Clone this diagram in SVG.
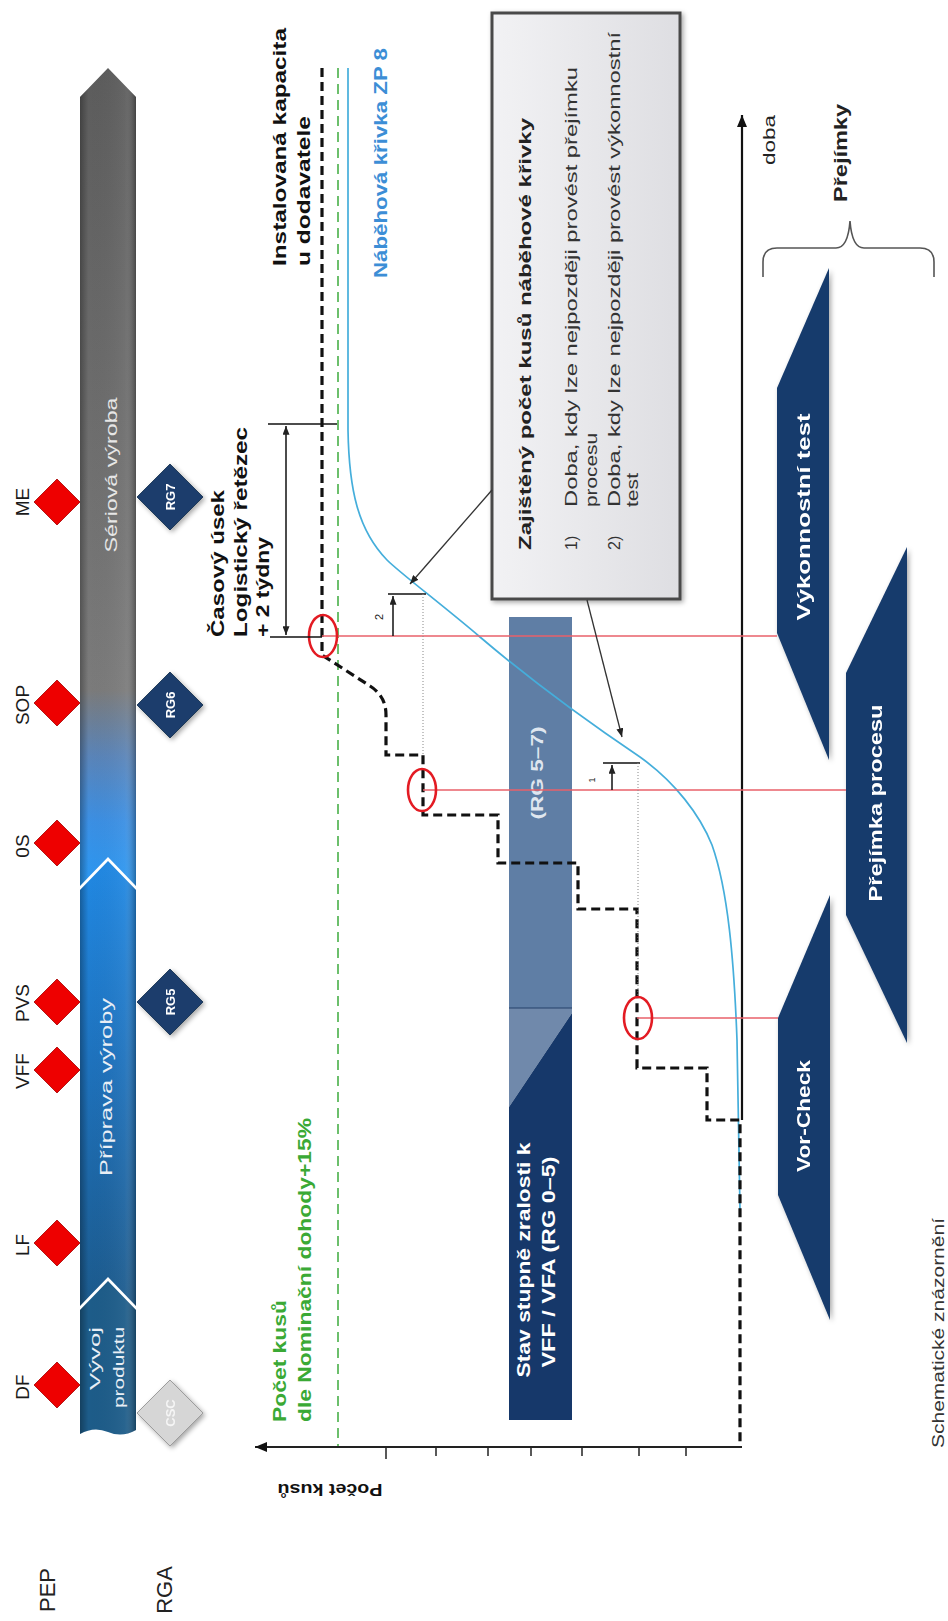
<svg xmlns="http://www.w3.org/2000/svg" width="948" height="1621" viewBox="0 0 948 1621">
<defs>
<style>
text{font-family:"Liberation Sans",Arial,Helvetica,sans-serif}
.lbl{font-size:19px;fill:#1a1a1a;text-anchor:middle}
.b{font-weight:bold}
.wt{fill:#ffffff}
.mid{text-anchor:middle}
.end{text-anchor:end}
.red{fill:#ee0000;stroke:#a30000;stroke-width:0.8}
.rg{fill:#1b3c6c;stroke:#12294a;stroke-width:0.8}
.rgt{font-size:13px;font-weight:bold;fill:#ffffff;text-anchor:middle}
.navy{fill:#153a6c}
.cb{font-size:16px;fill:#333}
.redl{stroke:#e8606a;stroke-width:1.6;fill:none}
.ell{stroke:#e31b23;stroke-width:2.6;fill:none}
.thin{stroke:#111;stroke-width:1.5;fill:none}
</style>
<linearGradient id="gSer" gradientUnits="userSpaceOnUse" x1="0" y1="68" x2="0" y2="887">
<stop offset="0" stop-color="#5c5c5c"/>
<stop offset="0.4" stop-color="#6c6c6c"/>
<stop offset="0.76" stop-color="#7b7b7b"/>
<stop offset="0.84" stop-color="#5a84b8"/>
<stop offset="0.92" stop-color="#3b8fe3"/>
<stop offset="1" stop-color="#2a98f2"/>
</linearGradient>
<linearGradient id="gPri" gradientUnits="userSpaceOnUse" x1="0" y1="860" x2="0" y2="1306">
<stop offset="0" stop-color="#2189e4"/>
<stop offset="0.45" stop-color="#1e72bd"/>
<stop offset="1" stop-color="#1c5a8c"/>
</linearGradient>
<linearGradient id="gEdge" x1="0" y1="0" x2="1" y2="0">
<stop offset="0" stop-color="#000" stop-opacity="0.3"/>
<stop offset="0.15" stop-color="#000" stop-opacity="0"/>
<stop offset="0.8" stop-color="#fff" stop-opacity="0.05"/>
<stop offset="1" stop-color="#000" stop-opacity="0.3"/>
</linearGradient>
<linearGradient id="gBox" x1="0" y1="0" x2="1" y2="0">
<stop offset="0" stop-color="#f2f2f4"/>
<stop offset="1" stop-color="#dedee2"/>
</linearGradient>
<filter id="sh" x="-30%" y="-30%" width="160%" height="160%">
<feDropShadow dx="2" dy="2" stdDeviation="2.5" flood-color="#000" flood-opacity="0.35"/>
</filter>
<marker id="ahB" markerUnits="userSpaceOnUse" viewBox="0 0 12 10" refX="12" refY="5" markerWidth="12" markerHeight="10" orient="auto-start-reverse">
<path d="M0,0 L12,5 L0,10 z" fill="#111"/>
</marker>
<marker id="ahS" markerUnits="userSpaceOnUse" viewBox="0 0 10 8" refX="10" refY="4" markerWidth="9" markerHeight="7" orient="auto-start-reverse">
<path d="M0,0 L10,4 L0,8 z" fill="#222"/>
</marker>
</defs>
<rect x="0" y="0" width="948" height="1621" fill="#ffffff"/>

<!-- timeline bar -->
<g id="serie">
<path d="M80,97 L108,68 L136,97 L136,886 L108,857 L80,886 Z" fill="url(#gSer)"/>
<path d="M80,97 L108,68 L136,97 L136,886 L108,857 L80,886 Z" fill="url(#gEdge)"/>
<text transform="translate(117,475) rotate(-90)" class="mid" font-size="16" fill="#e6e6e6" textLength="155" lengthAdjust="spacingAndGlyphs">Sériová výroba</text>
</g>
<g id="priprava">
<path d="M80,890 L108,861 L136,890 L136,1306 L108,1277 L80,1306 Z" fill="url(#gPri)"/>
<path d="M80,890 L108,861 L136,890 L136,1306 L108,1277 L80,1306 Z" fill="url(#gEdge)"/>
<text transform="translate(112,1087) rotate(-90)" class="mid" font-size="16" fill="#e8eef5" textLength="178" lengthAdjust="spacingAndGlyphs">Příprava výroby</text>
</g>
<g id="vyvoj">
<path d="M80,1310 L108,1281 L136,1310 L136,1430 Q122,1438 108,1432 Q94,1426 80,1434 Z" fill="#1d5c89"/>
<path d="M80,1310 L108,1281 L136,1310 L136,1430 Q122,1438 108,1432 Q94,1426 80,1434 Z" fill="url(#gEdge)"/>
<text transform="translate(100,1327) rotate(-90)" class="end" font-size="14" fill="#e8eef5" textLength="63" lengthAdjust="spacingAndGlyphs">Vývoj</text>
<text transform="translate(124,1327) rotate(-90)" class="end" font-size="14" fill="#e8eef5" textLength="81" lengthAdjust="spacingAndGlyphs">produktu</text>
</g>

<!-- PEP milestones -->
<g id="ms-me"><polygon class="red" points="57,479 80,502 57,525 34,502"/><text class="lbl" transform="translate(29,502) rotate(-90)">ME</text></g>
<g id="ms-sop"><polygon class="red" points="57,680 80,703 57,726 34,703"/><text class="lbl" transform="translate(29,705) rotate(-90)">SOP</text></g>
<g id="ms-0s"><polygon class="red" points="57,820 80,843 57,866 34,843"/><text class="lbl" transform="translate(29,846) rotate(-90)">0S</text></g>
<g id="ms-pvs"><polygon class="red" points="57,979 80,1002 57,1025 34,1002"/><text class="lbl" transform="translate(29,1003) rotate(-90)">PVS</text></g>
<g id="ms-vff"><polygon class="red" points="57,1047 80,1070 57,1093 34,1070"/><text class="lbl" transform="translate(29,1071) rotate(-90)">VFF</text></g>
<g id="ms-lf"><polygon class="red" points="57,1220 80,1243 57,1266 34,1243"/><text class="lbl" transform="translate(29,1245) rotate(-90)">LF</text></g>
<g id="ms-df"><polygon class="red" points="57,1362 80,1385 57,1408 34,1385"/><text class="lbl" transform="translate(29,1387) rotate(-90)">DF</text></g>

<!-- RGA gates -->
<g id="rg7" filter="url(#sh)"><polygon class="rg" points="170,464 203,497 170,530 137,497"/><text class="rgt" transform="translate(175,497) rotate(-90)">RG7</text></g>
<g id="rg6" filter="url(#sh)"><polygon class="rg" points="170,672 203,705 170,738 137,705"/><text class="rgt" transform="translate(175,705) rotate(-90)">RG6</text></g>
<g id="rg5" filter="url(#sh)"><polygon class="rg" points="170,969 203,1002 170,1035 137,1002"/><text class="rgt" transform="translate(175,1002) rotate(-90)">RG5</text></g>
<g id="csc" filter="url(#sh)"><polygon points="170,1380 203,1413 170,1446 137,1413" fill="#d6d6d6" stroke="#9c9c9c" stroke-width="1"/><text transform="translate(175,1413) rotate(-90)" class="mid" font-size="13" font-weight="bold" fill="#f5f5f5">CSC</text></g>

<g id="row-labels">
<text transform="translate(55,1590) rotate(-90)" class="mid" font-size="22" fill="#222">PEP</text>
<text transform="translate(172,1590) rotate(-90)" class="mid" font-size="22" fill="#222">RGA</text>
</g>

<!-- Stav bar -->
<g id="stav">
<rect x="509" y="617" width="63" height="391" fill="#5f7ea5"/>
<polygon points="509,1008 572,1008 572,1013 509,1107" fill="#7089ab"/>
<polygon points="572,1013 572,1420 509,1420 509,1107" fill="#16386a"/>
<line x1="509" y1="1008" x2="572" y2="1008" stroke="#24406a" stroke-width="1.2"/>
<text transform="translate(543,773) rotate(-90)" class="mid b" font-size="17" fill="#dfe6ef" textLength="93" lengthAdjust="spacingAndGlyphs">(RG 5–7)</text>
<text transform="translate(530,1260) rotate(-90)" class="mid b wt" font-size="18" textLength="235" lengthAdjust="spacingAndGlyphs">Stav stupně zralosti k</text>
<text transform="translate(555,1262) rotate(-90)" class="mid b wt" font-size="18" textLength="211" lengthAdjust="spacingAndGlyphs">VFF / VFA (RG 0–5)</text>
</g>

<!-- Callout box -->
<g id="callout">
<rect x="492" y="13" width="188" height="586" fill="url(#gBox)" stroke="#4a4a4a" stroke-width="3" filter="url(#sh)"/>
<text transform="translate(531,550) rotate(-90)" class="b" font-size="17" fill="#222" textLength="432" lengthAdjust="spacingAndGlyphs">Zajištěný počet kusů náběhové křivky</text>
<text transform="translate(577,550) rotate(-90)" class="cb">1)</text>
<text transform="translate(577,507) rotate(-90)" class="cb" textLength="440" lengthAdjust="spacingAndGlyphs">Doba, kdy lze nejpozději provést přejímku</text>
<text transform="translate(597,507) rotate(-90)" class="cb" textLength="74" lengthAdjust="spacingAndGlyphs">procesu</text>
<text transform="translate(620,550) rotate(-90)" class="cb">2)</text>
<text transform="translate(620,507) rotate(-90)" class="cb" textLength="475" lengthAdjust="spacingAndGlyphs">Doba, kdy lze nejpozději provést výkonnostní</text>
<text transform="translate(638,507) rotate(-90)" class="cb" textLength="34" lengthAdjust="spacingAndGlyphs">test</text>
</g>

<!-- acceptance shapes -->
<g id="vykonnostni" filter="url(#sh)"><polygon class="navy" points="777,388 829,268 829,760 777,633"/><text transform="translate(810,517) rotate(-90)" class="mid b wt" font-size="18" textLength="207" lengthAdjust="spacingAndGlyphs">Výkonnostní test</text></g>
<g id="prejimka" filter="url(#sh)"><polygon class="navy" points="846,673 907,547 907,1043 846,915"/><text transform="translate(882,803) rotate(-90)" class="mid b wt" font-size="18" textLength="197" lengthAdjust="spacingAndGlyphs">Přejímka procesu</text></g>
<g id="vorcheck" filter="url(#sh)"><polygon class="navy" points="778,1018 830,895 830,1320 778,1195"/><text transform="translate(810,1116) rotate(-90)" class="mid b wt" font-size="18" textLength="112" lengthAdjust="spacingAndGlyphs">Vor-Check</text></g>

<g id="prejimky-label">
<path d="M763,277 V262 Q763,248 777,248 H836 Q848,248 850,221 Q852,248 864,248 H920 Q934,248 934,262 V277" fill="none" stroke="#555" stroke-width="1.6"/>
<text transform="translate(847,202) rotate(-90)" class="b" font-size="18" fill="#222" textLength="98" lengthAdjust="spacingAndGlyphs">Přejímky</text>
</g>

<!-- chart labels -->
<g id="chart-labels">
<text transform="translate(286,266) rotate(-90)" class="b" font-size="19" fill="#111" textLength="238" lengthAdjust="spacingAndGlyphs">Instalovaná kapacita</text>
<text transform="translate(310,266) rotate(-90)" class="b" font-size="19" fill="#111" textLength="150" lengthAdjust="spacingAndGlyphs">u dodavatele</text>
<text transform="translate(387,278) rotate(-90)" class="b" font-size="19" fill="#3c8ed6" textLength="230" lengthAdjust="spacingAndGlyphs">Náběhová křivka ZP 8</text>
<text transform="translate(224,637) rotate(-90)" class="b" font-size="19" fill="#111" textLength="147" lengthAdjust="spacingAndGlyphs">Časový úsek</text>
<text transform="translate(247,637) rotate(-90)" class="b" font-size="19" fill="#111" textLength="210" lengthAdjust="spacingAndGlyphs">Logistický řetězec</text>
<text transform="translate(269,637) rotate(-90)" class="b" font-size="19" fill="#111" textLength="100" lengthAdjust="spacingAndGlyphs">+ 2 týdny</text>
<text transform="translate(286,1422) rotate(-90)" class="b" font-size="18" fill="#3aa935" textLength="122" lengthAdjust="spacingAndGlyphs">Počet kusů</text>
<text transform="translate(311,1422) rotate(-90)" class="b" font-size="18" fill="#3aa935" textLength="304" lengthAdjust="spacingAndGlyphs">dle Nominační dohody+15%</text>
<text transform="translate(330,1484) rotate(180)" class="mid b" font-size="17" fill="#111" textLength="105" lengthAdjust="spacingAndGlyphs">Počet kusů</text>
<text transform="translate(775,165) rotate(-90)" font-size="17" fill="#222" textLength="50" lengthAdjust="spacingAndGlyphs">doba</text>
<text transform="translate(944,1448) rotate(-90)" font-size="16" fill="#333" textLength="230" lengthAdjust="spacingAndGlyphs">Schematické znázornění</text>
<text transform="translate(383,617) rotate(-90)" class="mid" font-size="11" fill="#222">2</text>
<text transform="translate(595,780) rotate(-90)" class="mid" font-size="9" fill="#222">1</text>
</g>

<!-- connectors -->
<g id="connectors">
<line x1="338" y1="68" x2="338" y2="1447" stroke="#3cab3c" stroke-width="1.5" stroke-dasharray="10,6"/>
<path d="M348,68 V430 C349,490 358,530 387,560 C400,573 440,603 480,637 C520,671 570,710 640,757 C675,782 700,815 712,845 C728,890 734,960 737,1040 L740,1210" fill="none" stroke="#45aedb" stroke-width="1.7"/>
<path d="M322,68 V655 L370,686 Q386,696 386,715 V755 H423 V815 H498 V863 H578 V909 H637 V1068 H707 V1120 H740 V1447" fill="none" stroke="#111" stroke-width="3.2" stroke-dasharray="9,5"/>
<line x1="742" y1="1120" x2="742" y2="115" stroke="#111" stroke-width="2.2" marker-end="url(#ahB)"/>
<line x1="742" y1="1447" x2="255" y2="1447" stroke="#222" stroke-width="2" marker-end="url(#ahB)"/>
<g stroke="#222" stroke-width="1.5">
<line x1="386" y1="1447" x2="386" y2="1459"/>
<line x1="436" y1="1447" x2="436" y2="1456"/>
<line x1="488" y1="1447" x2="488" y2="1456"/>
<line x1="531" y1="1447" x2="531" y2="1456"/>
<line x1="582" y1="1447" x2="582" y2="1456"/>
<line x1="639" y1="1447" x2="639" y2="1456"/>
<line x1="686" y1="1447" x2="686" y2="1456"/>
</g>
<line class="redl" x1="322" y1="636" x2="777" y2="636"/>
<line class="redl" x1="423" y1="790" x2="846" y2="790"/>
<line class="redl" x1="637" y1="1018" x2="778" y2="1018"/>
<ellipse class="ell" cx="323" cy="636" rx="14" ry="21"/>
<ellipse class="ell" cx="422" cy="790" rx="14" ry="21"/>
<ellipse class="ell" cx="638" cy="1018" rx="14" ry="21"/>
<line class="thin" x1="268" y1="424" x2="337" y2="424"/>
<line class="thin" x1="270" y1="637" x2="322" y2="637"/>
<line class="thin" x1="286" y1="426" x2="286" y2="635" marker-start="url(#ahS)" marker-end="url(#ahS)"/>
<line class="thin" x1="388" y1="594" x2="426" y2="594"/>
<line class="thin" x1="393" y1="636" x2="393" y2="596" marker-end="url(#ahS)"/>
<line x1="423" y1="594" x2="423" y2="755" stroke="#888" stroke-width="1" stroke-dasharray="1,2"/>
<line class="thin" x1="603" y1="763" x2="640" y2="763"/>
<line class="thin" x1="612" y1="790" x2="612" y2="765" marker-end="url(#ahS)"/>
<line x1="638" y1="763" x2="638" y2="997" stroke="#888" stroke-width="1" stroke-dasharray="1,2"/>
<line x1="492" y1="490" x2="410" y2="584" stroke="#333" stroke-width="1.3" marker-end="url(#ahS)"/>
<line x1="587" y1="600" x2="622" y2="737" stroke="#333" stroke-width="1.3" marker-end="url(#ahS)"/>
</g>
</svg>
